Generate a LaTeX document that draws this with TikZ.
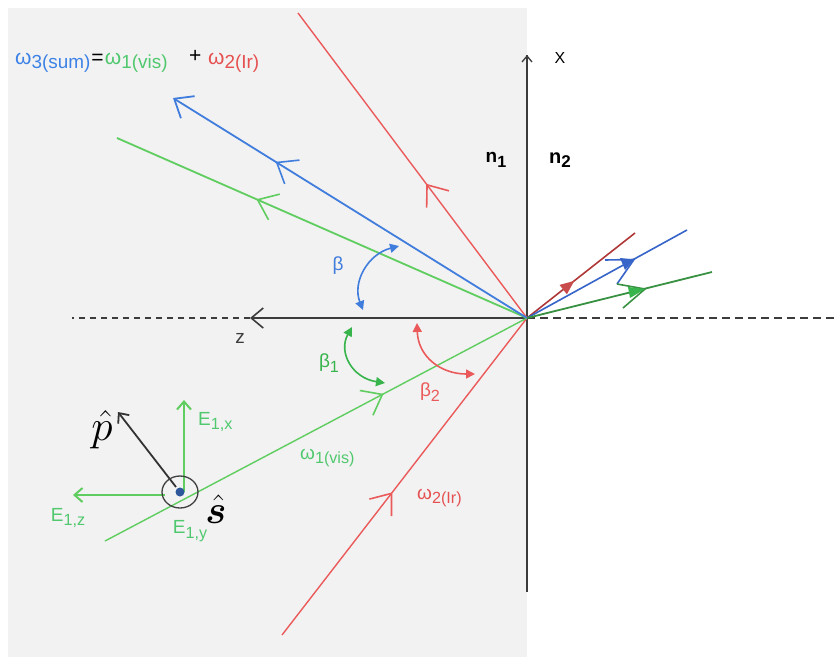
\documentclass[tikz,border=0pt]{standalone}
\usepackage{fontspec}
\setmainfont{Liberation Sans}
\usepackage{amsmath,bm}
\usetikzlibrary{arrows.meta,decorations.markings}
\definecolor{bgpanel}{RGB}{242,242,242}
\definecolor{grn}{RGB}{95,205,95}
\definecolor{grnD}{RGB}{55,180,75}
\definecolor{blu}{RGB}{65,125,220}
\definecolor{rd}{RGB}{235,90,90}
\definecolor{rdR}{RGB}{175,55,55}
\definecolor{bluR}{RGB}{55,100,200}
\definecolor{grnR}{RGB}{55,145,65}
\definecolor{tblu}{RGB}{60,130,230}
\definecolor{tgrn}{RGB}{80,200,110}
\definecolor{trd}{RGB}{230,80,80}
\definecolor{axisc}{RGB}{60,60,60}
\newcommand{\lowsub}[1]{\raisebox{-0.45ex}{\scalebox{0.85}{#1}}}
\newcommand{\lowsubT}[1]{\raisebox{-0.45ex}{\scalebox{0.9}{#1}}}
\tikzset{
  midarrow/.style={postaction={decorate},decoration={markings,
     mark=at position #1 with {\arrow{Straight Barb[length=18pt,width=28pt,line width=1.6pt]}}}},
  lbl/.style={inner sep=0pt,font=\fontsize{19}{20}\selectfont},
  tlbl/.style={inner sep=0pt,anchor=base west,font=\fontsize{21}{22}\selectfont},
  angarrow/.style={line width=1.6pt,{Triangle[length=9pt,width=9pt]}-{Triangle[length=9pt,width=9pt]}},
  ray/.style={line width=1.4pt}
}
\begin{document}
\begin{tikzpicture}[x=1pt,y=-1pt]
\useasboundingbox (0,0) rectangle (838,657);
\fill[bgpanel] (8,8) rectangle (527,657);
% coordinates
\coordinate (O) at (527,318);
\coordinate (Rin) at (282,635);
\coordinate (Rout) at (298,13);
\coordinate (Gin) at (105,541);
\coordinate (Gout) at (117,138);
\coordinate (Bout) at (173,98);
\coordinate (zL) at (72,318);
\coordinate (zA) at (250,318);
\coordinate (zR) at (838,318);
\coordinate (xT) at (527,55);
\coordinate (xB) at (527,592);
\coordinate (RT) at (635,233);
\coordinate (BT) at (687,230);
\coordinate (GT) at (712,272);
% axes
\draw[axisc,line width=1.3pt] (xB) -- (xT);
\draw[axisc,line width=1.3pt,-{Straight Barb[length=6pt,width=10pt]}] (527,70) -- (xT);
\draw[axisc,line width=1.6pt,dashed,dash pattern=on 6pt off 5pt] (zA) -- (zL);
\draw[axisc,line width=1.6pt,-{Straight Barb[length=12pt,width=20pt]}] (O) -- (zA);
\draw[axisc,line width=1.8pt,dash pattern=on 8pt off 5pt] (O) -- (zR);
% rays incident / reflected
\draw[rd,ray,midarrow=0.45] (Rin) -- (O);
\draw[rd,ray,midarrow=0.44] (O) -- (Rout);
\draw[grn,ray,midarrow=0.66] (Gin) -- (O);
\draw[grn,line width=1.8pt,midarrow=0.66] (O) -- (Gout);
\draw[blu,line width=1.8pt,midarrow=0.71,-{Straight Barb[length=16pt,width=26pt]}] (O) -- (Bout);
% transmitted
\draw[rdR,line width=1.6pt] (O) -- (RT);
\fill[rd!85!black] (574.2,280.9) -- (566.9,294.3) -- (559.5,284.9) -- cycle;
\draw[bluR,line width=1.6pt] (O) -- (BT);
\draw[grnR,line width=1.8pt] (O) -- (GT);
\coordinate (bt) at (634,259.5);
\coordinate (gt) at (645,289);
\draw[bluR,line width=1.6pt] (605,260) -- (bt) -- (617,284);
\fill[bluR] (bt) -- (620,258) -- (625,270) -- cycle;
\draw[grnR,line width=1.6pt] (617,284) -- (gt) -- (623,308);
\fill[grnD] (gt) -- (628,287) -- (630,298) -- cycle;
% angle arcs
\draw[blu,angarrow] (399,246) .. controls (368,254) and (352,282) .. (363,310);
\draw[grnD,angarrow] (352,327) .. controls (338,352) and (352,378) .. (385,383);
\draw[rd,angarrow] (417,323) .. controls (418,356) and (440,374) .. (475,374);
% angle labels
\node[lbl,text=blu] (beta) at (338,266) {β};
\node[lbl,text=grnD] (beta1) at (329,363) {β\lowsub{1}};
\node[lbl,text=rd] (beta2) at (430,392) {β\lowsub{2}};
% ray labels
\node[lbl,text=tgrn,anchor=west] (w1) at (300,458) {ω\lowsub{1(vis)}};
\node[lbl,text=trd,anchor=west] (w2) at (417,498) {ω\lowsub{2(Ir)}};
% title
\node[tlbl,text=tblu] (t3) at (15,64) {ω\lowsubT{3(sum)}};
\node[tlbl] (teq) at ([xshift=0.5pt]t3.base east) {=};
\node[tlbl,text=tgrn] (t1) at ([xshift=1pt]teq.base east) {ω\lowsubT{1(vis)}};
\node[tlbl] (tp) at (189,62) {+};
\node[tlbl,text=trd] (t2) at (208,64) {ω\lowsubT{2(Ir)}};
% axis labels
\node[lbl,text=axisc] (zlab) at (240,338) {z};
\node[lbl,font=\fontsize{16}{16}\selectfont] (xlab) at (560,58) {X};
\node[lbl,font=\bfseries\fontsize{19}{20}\selectfont] (n1) at (496,160) {n\lowsub{1}};
\node[lbl,font=\bfseries\fontsize{20}{20}\selectfont] (n2) at (560,160) {n\lowsub{2}};
% polarization
\coordinate (C) at (180,492);
\coordinate (Ex) at (184,400);
\coordinate (Ez) at (73,495);
\coordinate (P) at (118,412);
\draw[grn,line width=2pt,-{Straight Barb[length=8pt,width=14pt]}] (184,492) -- (Ex);
\draw[grn,line width=2pt,-{Straight Barb[length=8pt,width=14pt]}] (165,495) -- (Ez);
\draw[black!80,line width=1.8pt,-{Straight Barb[length=8pt,width=14pt]}] (176,487) -- (P);
\draw[black!75,line width=1.3pt] (C) ellipse [x radius=18, y radius=16];
\fill[blu!70!black] (C) circle (4.5);
\node[lbl,text=tgrn,anchor=west] (E1x) at (198,422) {E\lowsub{1,x}};
\node[lbl,text=tgrn] (E1z) at (68,518) {E\lowsub{1,z}};
\node[lbl,text=tgrn] (E1y) at (190,531) {E\lowsub{1,y}};
\node[lbl] (phat) at (102,430) {\scalebox{2.5}{$\hat{p}$}};
\node[lbl] (shat) at (216,509) {\scalebox{2.3}{$\hat{\bm{s}}$}};
\end{tikzpicture}
\end{document}
